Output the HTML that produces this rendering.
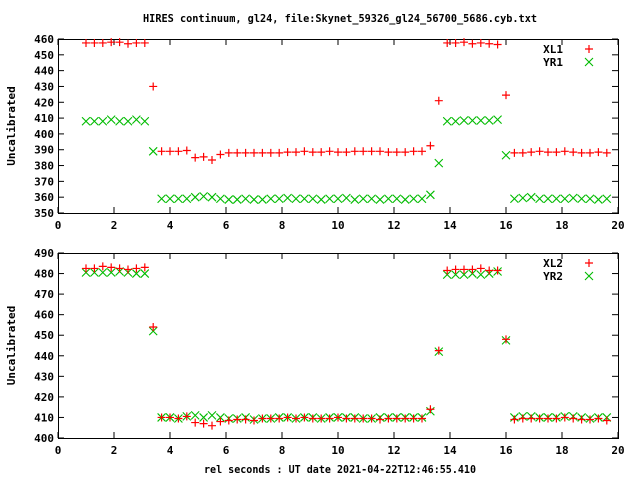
<!DOCTYPE html>
<html><head><meta charset="utf-8"><style>
body{margin:0;background:#fff}
svg text{font-family:"DejaVu Sans Mono","Liberation Mono",monospace;font-weight:bold;font-size:11px;fill:#000}
</style></head><body>
<svg id="c" width="640" height="480" xmlns="http://www.w3.org/2000/svg">
<text x="340" y="22" text-anchor="middle" textLength="394" lengthAdjust="spacingAndGlyphs">HIRES continuum, gl24, file:Skynet_59326_gl24_56700_5686.cyb.txt</text>
<text x="340" y="473" text-anchor="middle" textLength="272" lengthAdjust="spacingAndGlyphs">rel seconds : UT date 2021-04-22T12:46:55.410</text>
</svg>
<script>
const xStart = 1.0, xStep = 0.3;
const xTicks = [0,2,4,6,8,10,12,14,16,18,20];
const yTicks1 = [350,360,370,380,390,400,410,420,430,440,450,460];
const yTicks2 = [400,410,420,430,440,450,460,470,480,490];
const XL1 = [457.5,457.5,457.5,458,458,457,457.5,457.5,430,
389,389,389,389.5,385,385.5,383.5,387,388,388,388,388,388,388,388,388.5,388.5,389,388.5,388.5,389,388.5,388.5,389,389,389,389,388.5,388.5,388.5,389,389,392.5,421,
457.5,457.5,458,457,457.5,457,456.5,424.5,
388,388,388.5,389,388.5,388.5,389,388.5,388,388,388.5,388];
const YR1 = [408,408,408,409,408,408,409,408,389,
359,359,359,359,360,360.5,360,359,358.5,358.5,359,358.5,358.5,359,359,359.5,359,359,359,358.5,359,359,359.5,358.5,359,359,358.5,359,359,358.5,359,359,361.5,381.5,
408,408,408.5,408.5,408.5,408.5,409,386.5,
359,359.5,360,359,359,359,359,359.5,359,359,358.5,359];
const XL2 = [482.5,482.5,483.5,483,482.5,482,482.5,483,454,
410,410,409.5,410.5,407.5,407,406,408,408.5,409,409,408.5,409.5,409.5,409.5,410,409.5,410,409.5,409.5,409.5,410,409.5,409.5,409.5,409.5,409,409.5,409.5,409.5,409.5,409.5,414,442.5,
481.5,482,482,482,482.5,481.5,481.5,448,
409,409.5,409.5,409.5,409.5,409.5,410,409.5,409,409,409.5,408.5];
const YR2 = [480.5,480.5,480.5,480.5,481,480.5,480,480,452,
410,410,409.5,410.5,411,410,411,410,409.5,409.5,410,409,409.5,409.5,410,410,409.5,410,410,409.5,410,410,410,410,409.5,409.5,410,410,410,410,410,410,413,442,
479.5,479.5,479.5,480,479.5,480,481,447.5,
410,410.5,410.5,410,410,410,410.5,410.5,410,409.5,410,410];
const NS="http://www.w3.org/2000/svg";
const svg=document.getElementById('c');
function el(t,a,parent){const e=document.createElementNS(NS,t);for(const k in a)e.setAttribute(k,a[k]);(parent||svg).appendChild(e);return e;}
function panel(top,bottom,yMin,yMax,yTicks,s1,s2,n1,n2,pname){
  const L=58,R=618;
  const g=el('g',{});
  
  
  const xs=v=>L+(v-0)/(20-0)*(R-L);
  const ys=v=>bottom-(v-yMin)/(yMax-yMin)*(bottom-top);
  yTicks.forEach(v=>{
    const y=ys(v);
    const t=el('text',{x:L-4,y:y+4,'text-anchor':'end'},g);t.textContent=v;
    
    
    el('line',{x1:L,x2:L+6,y1:y,y2:y,stroke:'#000'},g);
    el('line',{x1:R,x2:R-6,y1:y,y2:y,stroke:'#000'},g);
  });
  xTicks.forEach(v=>{
    const x=xs(v);
    const t=el('text',{x:x,y:bottom+16,'text-anchor':'middle'},g);t.textContent=v;
    
    
    el('line',{x1:x,x2:x,y1:bottom,y2:bottom-6,stroke:'#000'},g);
    el('line',{x1:x,x2:x,y1:top,y2:top+6,stroke:'#000'},g);
  });
  const f=el('rect',{x:L+.5,y:top+.5,width:R-L,height:bottom-top,fill:'none',stroke:'#000'},g);
  
  
  const yl=el('text',{x:0,y:0,'text-anchor':'middle',transform:`translate(15,${(top+bottom)/2}) rotate(-90)`},g);
  yl.textContent='Uncalibrated';
  
  
  function plus(x,y,par){el('path',{d:`M${x-4},${y}H${x+4}M${x},${y-4}V${y+4}`,stroke:'#f00','stroke-width':1.2,fill:'none'},par);}
  function cross(x,y,par){el('path',{d:`M${x-4},${y-4}L${x+4},${y+4}M${x-4},${y+4}L${x+4},${y-4}`,stroke:'#0b0','stroke-width':1.1,fill:'none'},par);}
  const g2=el('g',{},g);
  
  
  s2.forEach((v,i)=>cross(xs(xStart+i*xStep),ys(v),g2));
  const g1=el('g',{},g);
  
  
  s1.forEach((v,i)=>plus(xs(xStart+i*xStep),ys(v),g1));
  const lg=el('g',{},g);
  
  
  const a=el('text',{x:563,y:top+14,'text-anchor':'end'},lg);a.textContent=n1;
  const b=el('text',{x:563,y:top+27,'text-anchor':'end'},lg);b.textContent=n2;
  plus(589,top+10,lg);cross(589,top+23,lg);
}
panel(39,213,350,460,yTicks1,XL1,YR1,'XL1','YR1','top-panel');
panel(253,438,400,490,yTicks2,XL2,YR2,'XL2','YR2','bottom-panel');
</script>
</body></html>
